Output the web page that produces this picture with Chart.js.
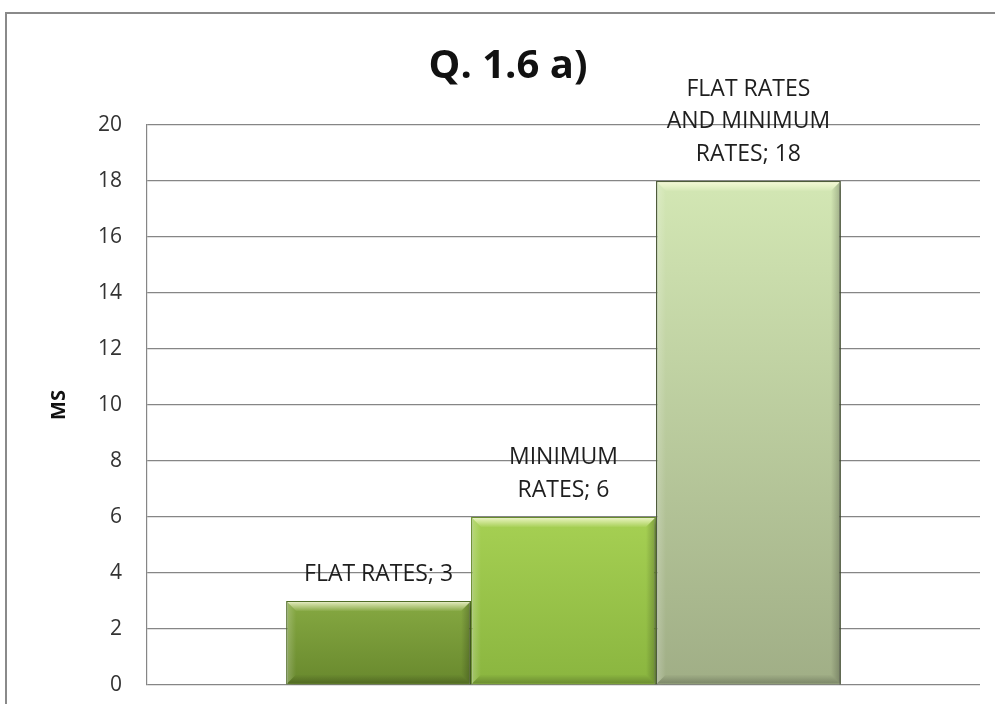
<!DOCTYPE html>
<html>
<head>
<meta charset="utf-8">
<script src="https://cdn.jsdelivr.net/npm/chart.js@4.4.1/dist/chart.umd.min.js"></script>
<style>
  html, body { margin: 0; padding: 0; background: #fff; overflow: hidden; }
  #wrap { width: 995px; height: 704px; position: relative; }
</style>
</head>
<body>
<div id="wrap"><canvas id="c"></canvas></div>
<script>
// Chart content
const chartTitle = 'Q. 1.6 a)';
const axisTitle = 'MS';
const categories = [''];
const seriesNames = [
  ['FLAT RATES'],
  ['MINIMUM', 'RATES'],
  ['FLAT RATES', 'AND MINIMUM', 'RATES']
];
const seriesValues = [3, 6, 18];
const yTicks = [0, 2, 4, 6, 8, 10, 12, 14, 16, 18, 20];

// Fill styles per series: [top, bottom, border]
const palette = [
  ['#86a942', '#68882d', '#526f27'],
  ['#a6d053', '#8ab53f', '#6a8f2d'],
  ['#d3e7b4', '#a0ae86', '#4f5e3a']
];

const FONT = '"Open Sans", "Liberation Sans", sans-serif';

function barGradient(ctx, i) {
  const chart = ctx.chart;
  const area = chart.chartArea;
  if (!area) return palette[i][0];
  const ys = chart.scales.y;
  const top = ys.getPixelForValue(seriesValues[i]);
  const base = ys.getPixelForValue(0);
  const g = chart.ctx.createLinearGradient(0, top, 0, base);
  g.addColorStop(0, palette[i][0]);
  g.addColorStop(1, palette[i][1]);
  return g;
}

const datasets = seriesValues.map((v, i) => ({
  label: seriesNames[i].join(' '),
  data: [v],
  backgroundColor: (ctx) => barGradient(ctx, i),
  borderColor: palette[i][2],
  borderWidth: 1.5,
  categoryPercentage: 0.666,
  barPercentage: 1.0
}));

// Outer frame, title and rotated axis caption
const framePlugin = {
  id: 'frame',
  beforeDraw(chart) {
    const c = chart.ctx;
    c.save();
    c.fillStyle = '#ffffff';
    c.fillRect(0, 0, chart.width, chart.height);
    c.strokeStyle = '#8a8a8a';
    c.lineWidth = 2;
    c.strokeRect(6, 13, 1100, 900);
    c.restore();
  },
  afterDraw(chart) {
    const c = chart.ctx;
    c.save();
    c.fillStyle = '#111';
    c.textAlign = 'center';
    c.textBaseline = 'alphabetic';
    c.font = 'bold 40px ' + FONT;
    c.fillText(chartTitle, 508, 78);
    c.translate(59, chart.chartArea.top + (chart.chartArea.bottom - chart.chartArea.top) / 2);
    c.rotate(-Math.PI / 2);
    c.textBaseline = 'middle';
    c.font = 'bold 20px ' + FONT;
    c.fillText(axisTitle, 0, 0);
    c.restore();
  }
};

// Drop shadow under the bars
const shadowPlugin = {
  id: 'barShadow',
  beforeDatasetsDraw(chart) {
    const c = chart.ctx;
    c.save();
    c.shadowColor = 'rgba(0,0,0,0.28)';
    c.shadowBlur = 6;
    c.shadowOffsetX = 3;
    c.shadowOffsetY = 3;
  },
  afterDatasetsDraw(chart) {
    chart.ctx.restore();
  }
};

// Bevelled edges on each bar
const bevelPlugin = {
  id: 'bevel',
  afterDatasetsDraw(chart) {
    const c = chart.ctx;
    chart.data.datasets.forEach((ds, i) => {
      const meta = chart.getDatasetMeta(i);
      meta.data.forEach(bar => {
        const p = bar.getProps(['x', 'y', 'base', 'width'], true);
        const l = p.x - p.width / 2 + 1, r = p.x + p.width / 2 - 1;
        const t = p.y + 1, b = p.base - 1;
        const d = 9;
        c.save();
        // top highlight
        let g = c.createLinearGradient(0, t, 0, t + d);
        g.addColorStop(0, 'rgba(255,255,225,0.75)');
        g.addColorStop(1, 'rgba(255,255,225,0.05)');
        c.fillStyle = g;
        c.beginPath();
        c.moveTo(l, t); c.lineTo(r, t); c.lineTo(r - d, t + d); c.lineTo(l + d, t + d); c.closePath();
        c.fill();
        // left highlight
        g = c.createLinearGradient(l, 0, l + d, 0);
        g.addColorStop(0, 'rgba(255,255,255,0.22)');
        g.addColorStop(1, 'rgba(255,255,255,0)');
        c.fillStyle = g;
        c.beginPath();
        c.moveTo(l, t); c.lineTo(l + d, t + d); c.lineTo(l + d, b - d); c.lineTo(l, b); c.closePath();
        c.fill();
        // right shade
        g = c.createLinearGradient(r, 0, r - d, 0);
        g.addColorStop(0, 'rgba(0,0,0,0.22)');
        g.addColorStop(1, 'rgba(0,0,0,0)');
        c.fillStyle = g;
        c.beginPath();
        c.moveTo(r, t); c.lineTo(r - d, t + d); c.lineTo(r - d, b - d); c.lineTo(r, b); c.closePath();
        c.fill();
        // bottom shade
        g = c.createLinearGradient(0, b, 0, b - d);
        g.addColorStop(0, 'rgba(0,0,0,0.22)');
        g.addColorStop(1, 'rgba(0,0,0,0)');
        c.fillStyle = g;
        c.beginPath();
        c.moveTo(l, b); c.lineTo(r, b); c.lineTo(r - d, b - d); c.lineTo(l + d, b - d); c.closePath();
        c.fill();
        c.restore();
      });
    });
  }
};

// "Series; value" labels above each bar
const valueLabelPlugin = {
  id: 'valueLabels',
  afterDatasetsDraw(chart) {
    const c = chart.ctx;
    c.save();
    c.font = '23px ' + FONT;
    c.fillStyle = '#1e1e1e';
    c.textAlign = 'center';
    c.textBaseline = 'middle';
    chart.data.datasets.forEach((ds, i) => {
      const meta = chart.getDatasetMeta(i);
      meta.data.forEach((bar, j) => {
        const lines = seriesNames[i].slice();
        lines[lines.length - 1] += '; ' + ds.data[j];
        const lineH = 32.5;
        const lastY = bar.y - 27;
        lines.forEach((txt, k) => {
          c.fillText(txt, bar.x, lastY - (lines.length - 1 - k) * lineH);
        });
      });
    });
    c.restore();
  }
};

new Chart(document.getElementById('c'), {
  type: 'bar',
  data: { labels: categories, datasets },
  options: {
    responsive: true,
    maintainAspectRatio: false,
    animation: false,
    layout: { padding: { left: 0, right: 15, top: 125, bottom: 19 } },
    plugins: {
      legend: { display: false },
      title: { display: false },
      tooltip: { enabled: false }
    },
    scales: {
      x: { display: false },
      y: {
        min: 0,
        max: 20,
        afterBuildTicks(scale) { scale.ticks = yTicks.map(v => ({ value: v })); },
        afterFit(scale) {
          scale.width = 147;
          scale.paddingTop = 0;
          scale.paddingBottom = 0;
        },
        ticks: {
          padding: 25,
          color: '#333333',
          font: { family: FONT, size: 21 }
        },
        grid: { color: '#868686', lineWidth: 1.2, drawTicks: false },
        border: { display: true, color: '#868686', width: 1.2 }
      }
    }
  },
  plugins: [framePlugin, shadowPlugin, bevelPlugin, valueLabelPlugin]
});
</script>
</body>
</html>
